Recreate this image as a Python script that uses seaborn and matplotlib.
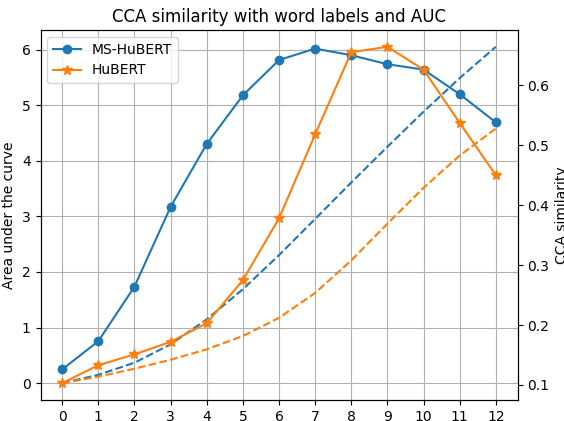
import matplotlib
matplotlib.use("Agg")
import matplotlib.pyplot as plt
import seaborn as sns

layers = list(range(13))
ms_hubert_cca = [0.126, 0.173, 0.264, 0.397, 0.502, 0.583, 0.642, 0.661, 0.650, 0.635, 0.626, 0.585, 0.538]
hubert_cca = [0.103, 0.133, 0.151, 0.172, 0.203, 0.275, 0.378, 0.518, 0.655, 0.664, 0.626, 0.537, 0.450]
ms_hubert_auc = [0.0, 0.150, 0.368, 0.698, 1.148, 1.690, 2.303, 2.954, 3.610, 4.252, 4.883, 5.488, 6.050]
hubert_auc = [0.0, 0.118, 0.260, 0.422, 0.609, 0.848, 1.175, 1.623, 2.209, 2.869, 3.514, 4.095, 4.580]

fig = plt.figure(figsize=(5.64, 4.21), dpi=100)
ax1 = fig.add_axes([40.5 / 564, 21 / 421, 477 / 564, 370 / 421])
ax2 = ax1.twinx()

c0, c1 = "#1f77b4", "#ff7f0e"

sns.lineplot(x=layers, y=ms_hubert_auc, ax=ax1, color=c0, linestyle="--", linewidth=1.5)
sns.lineplot(x=layers, y=hubert_auc, ax=ax1, color=c1, linestyle="--", linewidth=1.5)

sns.lineplot(x=layers, y=ms_hubert_cca, ax=ax2, color=c0, marker="o", markersize=6,
             markeredgecolor=c0, markeredgewidth=1, linewidth=1.5, label="MS-HuBERT")
sns.lineplot(x=layers, y=hubert_cca, ax=ax2, color=c1, marker="*", markersize=7,
             markeredgecolor=c1, markeredgewidth=1, linewidth=1.5, label="HuBERT")

ax1.set_xticks(layers)
ax1.grid(True, color="#b0b0b0", linewidth=0.8)
ax1.set_ylabel("Area under the curve")
ax2.set_ylabel("CCA similarity")
ax1.set_xlabel("")
ax2.set_xlabel("")
ax1.set_title("CCA similarity with word labels and AUC")
ax2.legend(loc="upper left")

fig.savefig("out.png", dpi=100)
